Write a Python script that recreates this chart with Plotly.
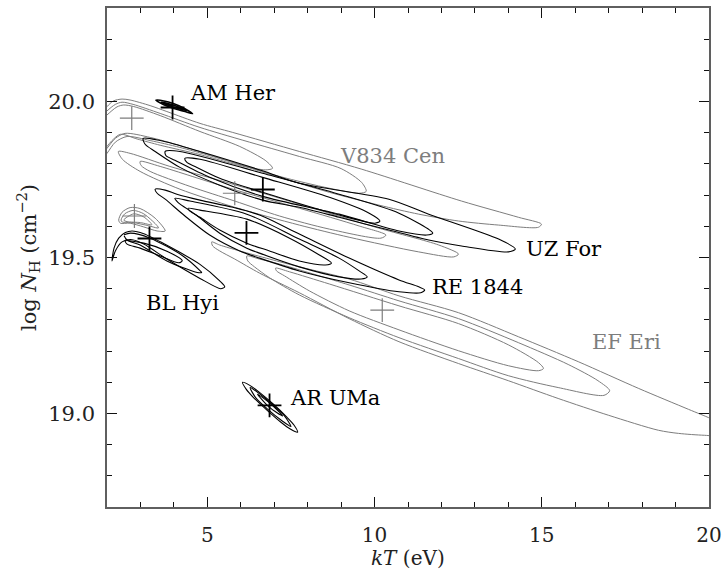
import plotly.graph_objects as go

BLACK = "#000000"
GREY = "#7d7d7d"

# ---------------- contour outlines (kT [eV], log NH) ----------------
AMHER_C1 = [(3.46,20.004),(3.70,20.002),(4.00,19.993),(4.30,19.979),(4.56,19.961),(4.30,19.969),(4.00,19.978),(3.70,19.990),(3.46,20.004)]
AMHER_C2 = [(3.62,19.998),(4.00,19.988),(4.40,19.971),(4.00,19.982),(3.62,19.998)]

ARUMA_C1 = [(6.05,19.100),(6.27,19.090),(6.54,19.069),(6.96,19.031),(7.37,18.989),(7.59,18.963),(7.70,18.940),
            (7.48,18.950),(7.21,18.971),(6.79,19.010),(6.38,19.051),(6.16,19.078),(6.05,19.100)]
ARUMA_C2 = [(6.28,19.083),(6.60,19.060),(6.95,19.028),(7.30,18.993),(7.50,18.958),(7.25,18.975),(6.80,19.014),(6.45,19.050),(6.28,19.083)]
ARUMA_C3 = [(6.50,19.062),(6.90,19.030),(7.25,18.992),(6.85,19.020),(6.50,19.062)]

BLHYI_C1 = [(2.15,19.489),(2.21,19.530),(2.35,19.562),(2.55,19.580),(2.75,19.585),(3.10,19.576),(3.79,19.539),(4.78,19.478),
            (5.37,19.425),(5.52,19.406),(5.40,19.400),(4.78,19.433),(3.79,19.495),(3.10,19.543),(2.75,19.557),(2.45,19.550),
            (2.25,19.521),(2.15,19.489)]
BLHYI_C2 = [(2.51,19.573),(2.70,19.578),(3.29,19.562),(4.27,19.505),(4.78,19.458),(4.83,19.452),(4.70,19.452),(3.79,19.489),
            (2.99,19.540),(2.60,19.556),(2.51,19.570)]
BLHYI_C3 = [(2.55,19.553),(3.10,19.546),(3.79,19.520),(4.25,19.490),(4.15,19.483),(3.59,19.505),(2.99,19.530),(2.60,19.543),(2.55,19.553)]

BLHYI_G1 = [(2.35,19.620),(2.45,19.645),(2.69,19.660),(2.99,19.657),(3.44,19.626),(3.74,19.585),(3.50,19.585),(3.10,19.598),
            (2.69,19.610),(2.40,19.610),(2.35,19.620)]
BLHYI_G2 = [(2.42,19.620),(2.53,19.640),(2.78,19.651),(3.10,19.640),(3.54,19.595),(3.20,19.603),(2.78,19.612),(2.45,19.614),(2.42,19.620)]
BLHYI_G3 = [(2.50,19.620),(2.80,19.640),(3.10,19.630),(3.34,19.605),(3.00,19.612),(2.60,19.615),(2.50,19.620)]

REJ_C1 = [(3.44,19.719),(3.74,19.716),(4.09,19.703),(4.78,19.684),(5.76,19.661),(6.56,19.636),(7.75,19.575),(9.24,19.498),
          (10.73,19.428),(11.32,19.406),(11.50,19.396),(11.38,19.387),(10.73,19.390),(9.24,19.419),(7.75,19.457),(6.56,19.498),
          (5.97,19.521),(5.07,19.572),(4.33,19.633),(3.74,19.687),(3.50,19.706),(3.44,19.719)]
REJ_C2 = [(4.03,19.690),(4.48,19.681),(6.18,19.639),(7.75,19.559),(8.94,19.498),(9.54,19.457),(9.78,19.438),(9.60,19.431),
          (8.94,19.438),(7.75,19.470),(6.56,19.514),(6.18,19.530),(5.37,19.578),(4.63,19.639),(4.12,19.677),(4.03,19.690)]
REJ_C3 = [(4.42,19.658),(4.78,19.652),(6.18,19.623),(7.46,19.562),(8.35,19.508),(8.71,19.482),(8.53,19.476),(7.75,19.489),
          (6.86,19.521),(6.18,19.546),(5.37,19.588),(4.78,19.629),(4.48,19.649),(4.42,19.658)]

UZFOR_C1 = [(3.08,19.882),(3.59,19.875),(4.78,19.840),(6.65,19.778),(7.75,19.738),(10.43,19.687),(11.62,19.639),(13.71,19.559),
            (14.21,19.527),(14.00,19.518),(12.60,19.537),(11.62,19.556),(10.43,19.588),(8.94,19.629),(7.75,19.661),(6.65,19.684),
            (5.37,19.732),(4.18,19.789),(3.44,19.840),(3.14,19.863),(3.08,19.882)]
UZFOR_C2 = [(3.74,19.840),(4.18,19.840),(6.65,19.770),(8.94,19.703),(10.73,19.642),(11.74,19.578),(11.56,19.572),(10.73,19.585),
            (8.94,19.639),(6.65,19.696),(5.07,19.757),(4.03,19.812),(3.76,19.827),(3.74,19.840)]
UZFOR_C3 = [(4.33,19.818),(4.78,19.815),(6.65,19.757),(8.65,19.693),(9.84,19.642),(10.16,19.617),(10.01,19.610),(8.94,19.636),
            (6.65,19.709),(5.37,19.754),(4.63,19.792),(4.39,19.805),(4.33,19.818)]

V834_C1 = [(1.80,19.962),(2.00,19.984),(2.19,20.002),(2.45,20.008),(2.69,20.005),(3.29,19.987),(3.79,19.968),(4.78,19.930),
           (5.76,19.901),(7.75,19.840),(9.62,19.783),(12.60,19.681),(14.30,19.629),(14.99,19.607),(14.90,19.597),(13.71,19.604),
           (12.51,19.617),(11.32,19.639),(10.13,19.668),(8.65,19.709),(7.16,19.757),(5.67,19.808),(4.18,19.859),(3.29,19.885),
           (2.54,19.898),(2.25,19.882),(2.00,19.850),(1.80,19.824)]
V834_C2 = [(1.80,19.949),(2.00,19.970),(2.25,19.991),(2.45,19.998),(2.78,19.991),(3.59,19.962),(4.78,19.917),(7.75,19.824),
           (9.00,19.785),(9.62,19.740),(9.75,19.712),(9.54,19.706),(8.65,19.722),(7.16,19.760),(5.67,19.808),(4.18,19.853),
           (3.29,19.875),(2.60,19.888),(2.25,19.870),(2.00,19.834),(1.80,19.810)]
V834_C3 = [(1.80,19.936),(2.00,19.957),(2.30,19.983),(2.50,19.989),(2.80,19.984),(3.59,19.955),(4.78,19.904),(5.97,19.856),
           (6.75,19.810),(6.95,19.786),(6.75,19.781),(5.97,19.795),(4.78,19.830),(3.59,19.860),(2.90,19.880),(2.40,19.895),
           (2.15,19.875),(2.00,19.856),(1.80,19.830)]

V834_G1 = [(2.34,19.840),(2.69,19.834),(3.88,19.792),(5.67,19.738),(7.75,19.671),(10.13,19.594),(11.92,19.540),(12.51,19.511),
           (12.37,19.502),(11.32,19.518),(9.24,19.565),(7.75,19.604),(5.82,19.661),(4.18,19.719),(2.99,19.776),(2.46,19.815),(2.34,19.840)]
V834_G2 = [(2.99,19.808),(3.59,19.792),(5.67,19.722),(7.75,19.658),(9.54,19.601),(10.34,19.572),(10.19,19.562),(8.65,19.591),
           (7.16,19.633),(5.82,19.681),(4.48,19.728),(3.29,19.776),(3.02,19.795),(2.99,19.808)]

EFERI_C1 = [(5.13,19.550),(5.37,19.540),(5.97,19.521),(6.86,19.495),(7.75,19.470),(9.24,19.431),(10.73,19.377),(12.51,19.323),
            (14.30,19.246),(16.09,19.166),(17.90,19.080),(19.39,19.013),(20.04,18.984),(20.43,18.962),(20.43,18.930),(19.86,18.930),
            (19.09,18.936),(18.49,18.946),(17.00,18.994),(15.49,19.048),(14.00,19.105),(12.51,19.160),(10.73,19.230),(9.24,19.304),
            (7.75,19.387),(6.56,19.450),(5.82,19.495),(5.37,19.521),(5.16,19.537),(5.13,19.550)]
EFERI_C2 = [(6.18,19.505),(6.56,19.495),(7.16,19.479),(9.24,19.412),(10.73,19.361),(12.51,19.304),(14.30,19.227),(15.79,19.157),
            (16.68,19.105),(17.03,19.073),(16.86,19.058),(15.49,19.083),(14.00,19.121),(12.51,19.176),(10.73,19.243),(9.24,19.307),
            (7.75,19.380),(6.86,19.435),(6.41,19.470),(6.21,19.489),(6.18,19.505)]
EFERI_C3 = [(7.04,19.466),(7.46,19.454),(8.65,19.415),(10.73,19.345),(12.51,19.288),(14.00,19.220),(14.90,19.163),(15.05,19.144),
            (14.90,19.137),(14.00,19.153),(12.51,19.201),(10.73,19.268),(9.24,19.329),(8.05,19.393),(7.31,19.441),(7.07,19.457),(7.04,19.466)]

CONTOURS = [
    (AMHER_C1, BLACK, 1.6), (AMHER_C2, BLACK, 1.6),
    (ARUMA_C1, BLACK, 1.1), (ARUMA_C2, BLACK, 1.1), (ARUMA_C3, BLACK, 1.1),
    (BLHYI_G1, GREY, 1.0), (BLHYI_G2, GREY, 1.0), (BLHYI_G3, GREY, 1.0),
    (BLHYI_C1, BLACK, 1.1), (BLHYI_C2, BLACK, 1.1), (BLHYI_C3, BLACK, 1.1),
    (V834_C1, GREY, 1.0), (V834_C2, GREY, 1.0), (V834_C3, GREY, 1.0),
    (V834_G1, GREY, 1.0), (V834_G2, GREY, 1.0),
    (EFERI_C1, GREY, 1.0), (EFERI_C2, GREY, 1.0), (EFERI_C3, GREY, 1.0),
    (REJ_C1, BLACK, 1.1), (REJ_C2, BLACK, 1.1), (REJ_C3, BLACK, 1.1),
    (UZFOR_C1, BLACK, 1.1), (UZFOR_C2, BLACK, 1.1), (UZFOR_C3, BLACK, 1.1),
]

# best-fit positions
CROSS_X = [3.96, 2.74, 5.82, 6.66, 2.82, 3.27, 6.17, 10.23, 6.86]
CROSS_Y = [19.981, 19.947, 19.706, 19.718, 19.633, 19.561, 19.579, 19.331, 19.026]
CROSS_C = [BLACK, GREY, GREY, BLACK, GREY, BLACK, BLACK, GREY, BLACK]

# labels
LABEL_TEXT = ["AM Her", "V834 Cen", "UZ For", "RE 1844", "BL Hyi", "EF Eri", "AR UMa"]
LABEL_X = [4.42, 8.90, 14.46, 11.65, 3.10, 16.44, 7.42]
LABEL_Y = [20.026, 19.827, 19.527, 19.404, 19.353, 19.228, 19.050]
LABEL_C = [BLACK, GREY, BLACK, BLACK, BLACK, GREY, BLACK]

XTICKS = [5, 10, 15, 20]
YTICKS = [19.0, 19.5, 20.0]

FONT = "DejaVu Serif"

fig = go.Figure()
for pts, col, w in CONTOURS:
    fig.add_trace(go.Scatter(x=[p[0] for p in pts], y=[p[1] for p in pts], mode="lines",
                             line=dict(color=col, width=w, shape="spline", smoothing=0.8),
                             hoverinfo="skip", showlegend=False))
for x, y, c in zip(CROSS_X, CROSS_Y, CROSS_C):
    fig.add_trace(go.Scatter(x=[x], y=[y], mode="markers",
                             marker=dict(symbol="cross-thin", size=17,
                                         line=dict(color=c, width=1.8 if c == BLACK else 1.2)),
                             hoverinfo="skip", showlegend=False))

for t, x, y, c in zip(LABEL_TEXT, LABEL_X, LABEL_Y, LABEL_C):
    fig.add_annotation(x=x, y=y, text=t, showarrow=False, xanchor="left", yanchor="middle",
                       font=dict(family=FONT, size=21, color=c))

# x-axis title placed just under the tick labels
fig.add_annotation(x=0.5, y=-0.1025, xref="paper", yref="paper", text="<i>kT</i> (eV)", showarrow=False,
                   xanchor="center", yanchor="middle", font=dict(family=FONT, size=20, color="#222"))

axis_common = dict(showgrid=False, zeroline=False, showline=True, linecolor="#5f5f5f", linewidth=1.6,
                   mirror="allticks", ticks="inside", tickcolor="#111", ticklen=10, tickwidth=1.2)
fig.update_xaxes(range=[2, 20], tickvals=XTICKS, ticktext=[str(v) for v in XTICKS], ticklabelstandoff=9,
                 tickfont=dict(family=FONT, size=20, color="#222"),
                 minor=dict(dtick=1, tick0=0, ticks="inside", ticklen=5, tickcolor="#111", tickwidth=1.2),
                 **axis_common)
fig.update_yaxes(range=[18.7, 20.3], tickvals=YTICKS, ticktext=["19.0", "19.5", "20.0"], ticklabelstandoff=6,
                 tickfont=dict(family=FONT, size=21, color="#222"),
                 minor=dict(dtick=0.1, tick0=0, ticks="inside", ticklen=5, tickcolor="#111", tickwidth=1.2),
                 title=dict(text="log <i>N</i><sub>H</sub> (cm<sup>−2</sup>)", font=dict(family=FONT, size=21, color="#222"), standoff=6),
                 **axis_common)
fig.update_layout(width=728, height=573, margin=dict(l=107, r=17, t=6, b=66),
                  plot_bgcolor="white", paper_bgcolor="white")
fig.write_html("out.html")
